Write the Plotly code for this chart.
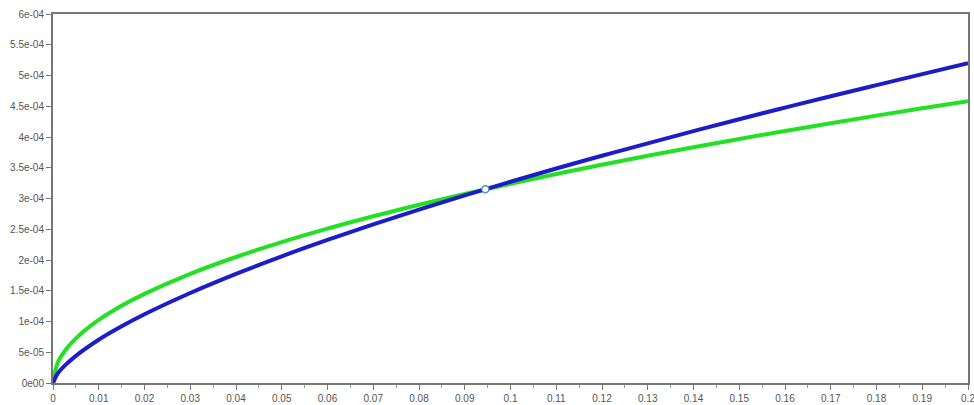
import plotly.graph_objects as go

x_vals = [0, 0.001, 0.0025, 0.005, 0.01, 0.015, 0.02, 0.03, 0.04, 0.05, 0.06, 0.07,
          0.08, 0.09, 0.1, 0.11, 0.12, 0.13, 0.14, 0.15, 0.16, 0.17, 0.18, 0.19, 0.2]
blue_vals = [0, 0.151e-4, 0.278e-4, 0.442e-4, 0.703e-4, 0.921e-4, 1.117e-4, 1.463e-4,
             1.774e-4, 2.060e-4, 2.326e-4, 2.579e-4, 2.818e-4, 3.050e-4, 3.272e-4,
             3.488e-4, 3.695e-4, 3.897e-4, 4.096e-4, 4.289e-4, 4.478e-4, 4.662e-4,
             4.843e-4, 5.023e-4, 5.198e-4]
green_vals = [0, 0.324e-4, 0.512e-4, 0.725e-4, 1.025e-4, 1.255e-4, 1.449e-4, 1.775e-4,
              2.049e-4, 2.291e-4, 2.510e-4, 2.711e-4, 2.898e-4, 3.074e-4, 3.240e-4,
              3.399e-4, 3.550e-4, 3.695e-4, 3.834e-4, 3.969e-4, 4.099e-4, 4.225e-4,
              4.348e-4, 4.467e-4, 4.583e-4]
cross_x = [0.0945]
cross_y = [3.15e-4]

x_ticks = [i / 100 for i in range(21)]
x_ticklabels = ["0"] + [("%g" % (i / 100)) for i in range(1, 21)]
y_ticks = [i * 5e-5 for i in range(13)]
y_ticklabels = ["0e00", "5e-05", "1e-04", "1.5e-04", "2e-04", "2.5e-04", "3e-04",
                "3.5e-04", "4e-04", "4.5e-04", "5e-04", "5.5e-04", "6e-04"]

fig = go.Figure()
fig.add_trace(go.Scatter(x=x_vals, y=green_vals, mode="lines",
                         line=dict(color="#22e022", width=4, shape="spline"), showlegend=False))
fig.add_trace(go.Scatter(x=x_vals, y=blue_vals, mode="lines",
                         line=dict(color="#1c1cc8", width=4, shape="spline"), showlegend=False))
fig.add_trace(go.Scatter(x=cross_x, y=cross_y, mode="markers",
                         marker=dict(symbol="circle", size=7, color="white",
                                     line=dict(color="#5b8fc0", width=1.5)),
                         showlegend=False))

x_font = dict(family="Liberation Sans, Arial, sans-serif", size=10, color="#555555")
y_font = dict(family="Liberation Sans, Arial, sans-serif", size=10, color="#555555")
fig.update_layout(
    width=974, height=405,
    margin=dict(l=53, r=6, t=14, b=22),
    paper_bgcolor="white", plot_bgcolor="white",
    xaxis=dict(range=[0, 0.2], tickvals=x_ticks, ticktext=x_ticklabels, automargin=False,
               ticklabeloverflow="allow",
               showgrid=False, zeroline=False, showline=True, linecolor="#777777",
               linewidth=2, mirror=True, ticks="outside", ticklen=5, tickcolor="#777777",
               tickfont=x_font,
               minor=dict(tickvals=[i / 200 for i in range(1, 40, 2)], ticks="outside",
                          ticklen=3, tickcolor="#999999")),
    yaxis=dict(range=[0, 6e-4], tickvals=y_ticks, ticktext=y_ticklabels, automargin=False,
               ticklabeloverflow="allow",
               showgrid=False, zeroline=False, showline=True, linecolor="#777777",
               linewidth=2, mirror=True, ticks="outside", ticklen=5, tickcolor="#777777",
               tickfont=y_font),
)
fig.write_html("out.html", config={"displayModeBar": False},
               post_script="document.body.style.margin='0';document.body.style.overflow='hidden';")
